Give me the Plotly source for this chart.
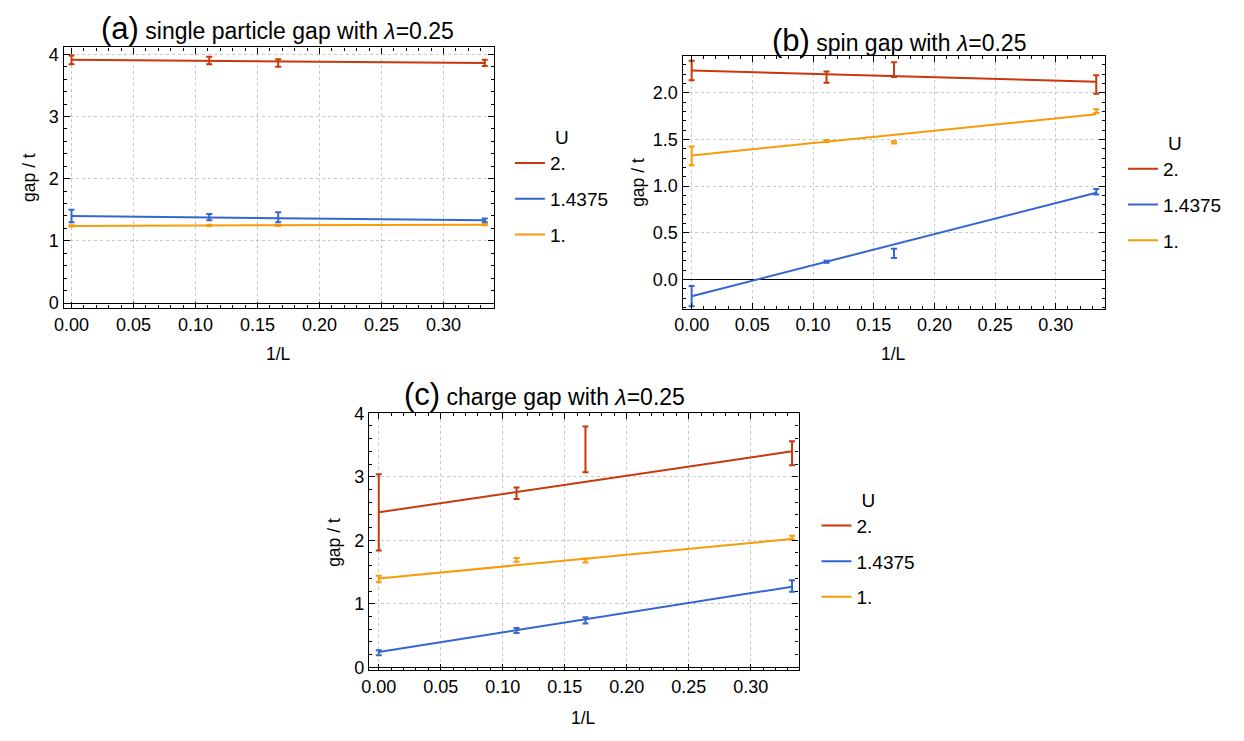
import plotly.graph_objects as go

# ---------------- data ----------------
inv_L = [0.0, 0.1111, 0.1667, 0.3333]
fit_x = [0.0, 0.3333]
U_labels = ["2.", "1.4375", "1."]

# (a) single particle gap
a_U2 = [3.91, 3.90, 3.86, 3.86]
a_U2_err = [0.07, 0.06, 0.06, 0.05]
a_U2_fit = [3.91, 3.86]
a_U14 = [1.40, 1.38, 1.38, 1.33]
a_U14_err = [0.10, 0.05, 0.08, 0.03]
a_U14_fit = [1.40, 1.33]
a_U1 = [1.24, 1.25, 1.25, 1.26]
a_U1_err = [0.01, 0.01, 0.01, 0.01]
a_U1_fit = [1.24, 1.26]

# (b) spin gap
b_U2 = [2.24, 2.17, 2.25, 2.09]
b_U2_err = [0.105, 0.06, 0.08, 0.10]
b_U2_fit = [2.24, 2.12]
b_U14 = [-0.18, 0.19, 0.28, 0.94]
b_U14_err = [0.108, 0.01, 0.05, 0.03]
b_U14_fit = [-0.18, 0.93]
b_U1 = [1.325, 1.484, 1.47, 1.805]
b_U1_err = [0.10, 0.01, 0.012, 0.02]
b_U1_fit = [1.33, 1.77]

# (c) charge gap
c_U2 = [2.44, 2.74, 3.43, 3.37]
c_U2_err = [0.60, 0.09, 0.36, 0.19]
c_U2_fit = [2.44, 3.40]
c_U14 = [0.23, 0.58, 0.74, 1.28]
c_U14_err = [0.04, 0.04, 0.05, 0.09]
c_U14_fit = [0.24, 1.27]
c_U1 = [1.39, 1.69, 1.68, 2.04]
c_U1_err = [0.05, 0.03, 0.03, 0.03]
c_U1_fit = [1.40, 2.02]

colors = ["#C9380B", "#3566CF", "#F99A08"]
FONT = "Liberation Sans, Arial, sans-serif"
W, H = 1244, 741

def px(x):
    return x / W

def py(y):
    return 1 - y / H

fig = go.Figure()

panels = [
    dict(suffix="", leg="legend",
         series=[(a_U2, a_U2_err, a_U2_fit), (a_U14, a_U14_err, a_U14_fit), (a_U1, a_U1_err, a_U1_fit)]),
    dict(suffix="2", leg="legend2",
         series=[(b_U2, b_U2_err, b_U2_fit), (b_U14, b_U14_err, b_U14_fit), (b_U1, b_U1_err, b_U1_fit)]),
    dict(suffix="3", leg="legend3",
         series=[(c_U2, c_U2_err, c_U2_fit), (c_U14, c_U14_err, c_U14_fit), (c_U1, c_U1_err, c_U1_fit)]),
]

for p in panels:
    xa = "x" + p["suffix"]
    ya = "y" + p["suffix"]
    for i, (vals, errs, fit) in enumerate(p["series"]):
        col = colors[i]
        fig.add_trace(go.Scatter(
            x=fit_x, y=fit, mode="lines", line=dict(color=col, width=2),
            name=U_labels[i], legend=p["leg"], legendgroup=p["leg"] + str(i),
            xaxis=xa, yaxis=ya, showlegend=True, hoverinfo="skip"))
        fig.add_trace(go.Scatter(
            x=inv_L, y=vals, mode="markers",
            marker=dict(color=col, size=1),
            error_y=dict(type="data", array=errs, visible=True, color=col,
                         thickness=2, width=3),
            xaxis=xa, yaxis=ya, showlegend=False, legendgroup=p["leg"] + str(i),
            hoverinfo="skip"))

GRID = "#c8c8c8"

def xaxis_cfg(dom, rng, anchor):
    return dict(domain=dom, range=rng, anchor=anchor, tickmode="linear", tick0=0, dtick=0.05,
                tickformat=".2f", ticks="inside", ticklen=6, tickwidth=1, tickcolor="black",
                minor=dict(ticks="inside", ticklen=3, dtick=0.01, tickcolor="black", showgrid=False),
                showline=True, linecolor="black", linewidth=1.3, mirror="allticks",
                showgrid=True, gridcolor=GRID, griddash="dot", gridwidth=1,
                zeroline=False, tickfont=dict(family=FONT, size=18, color="black"))

def yaxis_cfg(dom, rng, anchor, dtick, mdtick, fmt):
    return dict(domain=dom, range=rng, anchor=anchor, tickmode="linear", tick0=0, dtick=dtick,
                tickformat=fmt, ticks="inside", ticklen=6, tickwidth=1, tickcolor="black",
                minor=dict(ticks="inside", ticklen=3, dtick=mdtick, tickcolor="black", showgrid=False),
                showline=True, linecolor="black", linewidth=1.3, mirror="allticks",
                showgrid=True, gridcolor=GRID, griddash="dot", gridwidth=1,
                zeroline=True, zerolinecolor="black", zerolinewidth=1.3,
                tickfont=dict(family=FONT, size=18, color="black"))

dom_a_x = [px(54), px(488)]
dom_a_y = [py(305), py(38.3)]
dom_b_x = [px(678), px(1104)]
dom_b_y = [py(305.7), py(46.7)]
dom_c_x = [px(362), px(795)]
dom_c_y = [py(676), py(412.7)]

def legend_cfg(x, y):
    return dict(x=px(x), y=py(y), xanchor="left", yanchor="top",
                title=dict(text="U", side="top center", font=dict(family=FONT, size=19, color="black")),
                font=dict(family=FONT, size=19, color="black"),
                bgcolor="rgba(0,0,0,0)", borderwidth=0, itemwidth=30,
                traceorder="grouped", tracegroupgap=8)

def title_text(tag, txt):
    return ("<span style='font-size:31px'>" + tag + "</span> " + txt +
            " with <i>λ</i>=0.25")

def ann(text, x, y, size, angle=0):
    return dict(text=text, x=px(x), y=py(y), xref="paper", yref="paper",
                xanchor="center", yanchor="middle", textangle=angle, showarrow=False,
                font=dict(family=FONT, size=size, color="black"))

annotations = [
    ann(title_text("(a)", "single particle gap"), 270, 19, 23),
    ann(title_text("(b)", "spin gap"), 896, 31, 23),
    ann(title_text("(c)", "charge gap"), 539, 394, 23),
    ann("1/L", 271, 352, 17.5),
    ann("1/L", 891, 352, 17.5),
    ann("1/L", 578, 725, 17.5),
    ann("gap / t", 19, 171, 17.5, -90),
    ann("gap / t", 633, 176, 17.5, -90),
    ann("gap / t", 327, 545, 17.5, -90),
]

fig.update_layout(
    width=W, height=H, margin=dict(l=0, r=0, t=0, b=0),
    paper_bgcolor="white", plot_bgcolor="white",
    font=dict(family=FONT, color="black"),
    xaxis=xaxis_cfg(dom_a_x, [-0.0064, 0.3408], "y"),
    yaxis=yaxis_cfg(dom_a_y, [-0.08, 4.11], "x", 1, 0.2, "d"),
    xaxis2=xaxis_cfg(dom_b_x, [-0.0075, 0.3406], "y2"),
    yaxis2=yaxis_cfg(dom_b_y, [-0.314, 2.40], "x2", 0.5, 0.1, ".1f"),
    xaxis3=xaxis_cfg(dom_c_x, [-0.0078, 0.3386], "y3"),
    yaxis3=yaxis_cfg(dom_c_y, [-0.05, 4.0], "x3", 1, 0.2, "d"),
    legend=legend_cfg(504, 112),
    legend2=legend_cfg(1122, 118),
    legend3=legend_cfg(813, 483),
    annotations=annotations,
    showlegend=True,
    hovermode=False,
)

fig.write_html("out.html", config={"displayModeBar": False},
               post_script="document.body.style.margin='0';document.body.style.overflow='hidden';")
